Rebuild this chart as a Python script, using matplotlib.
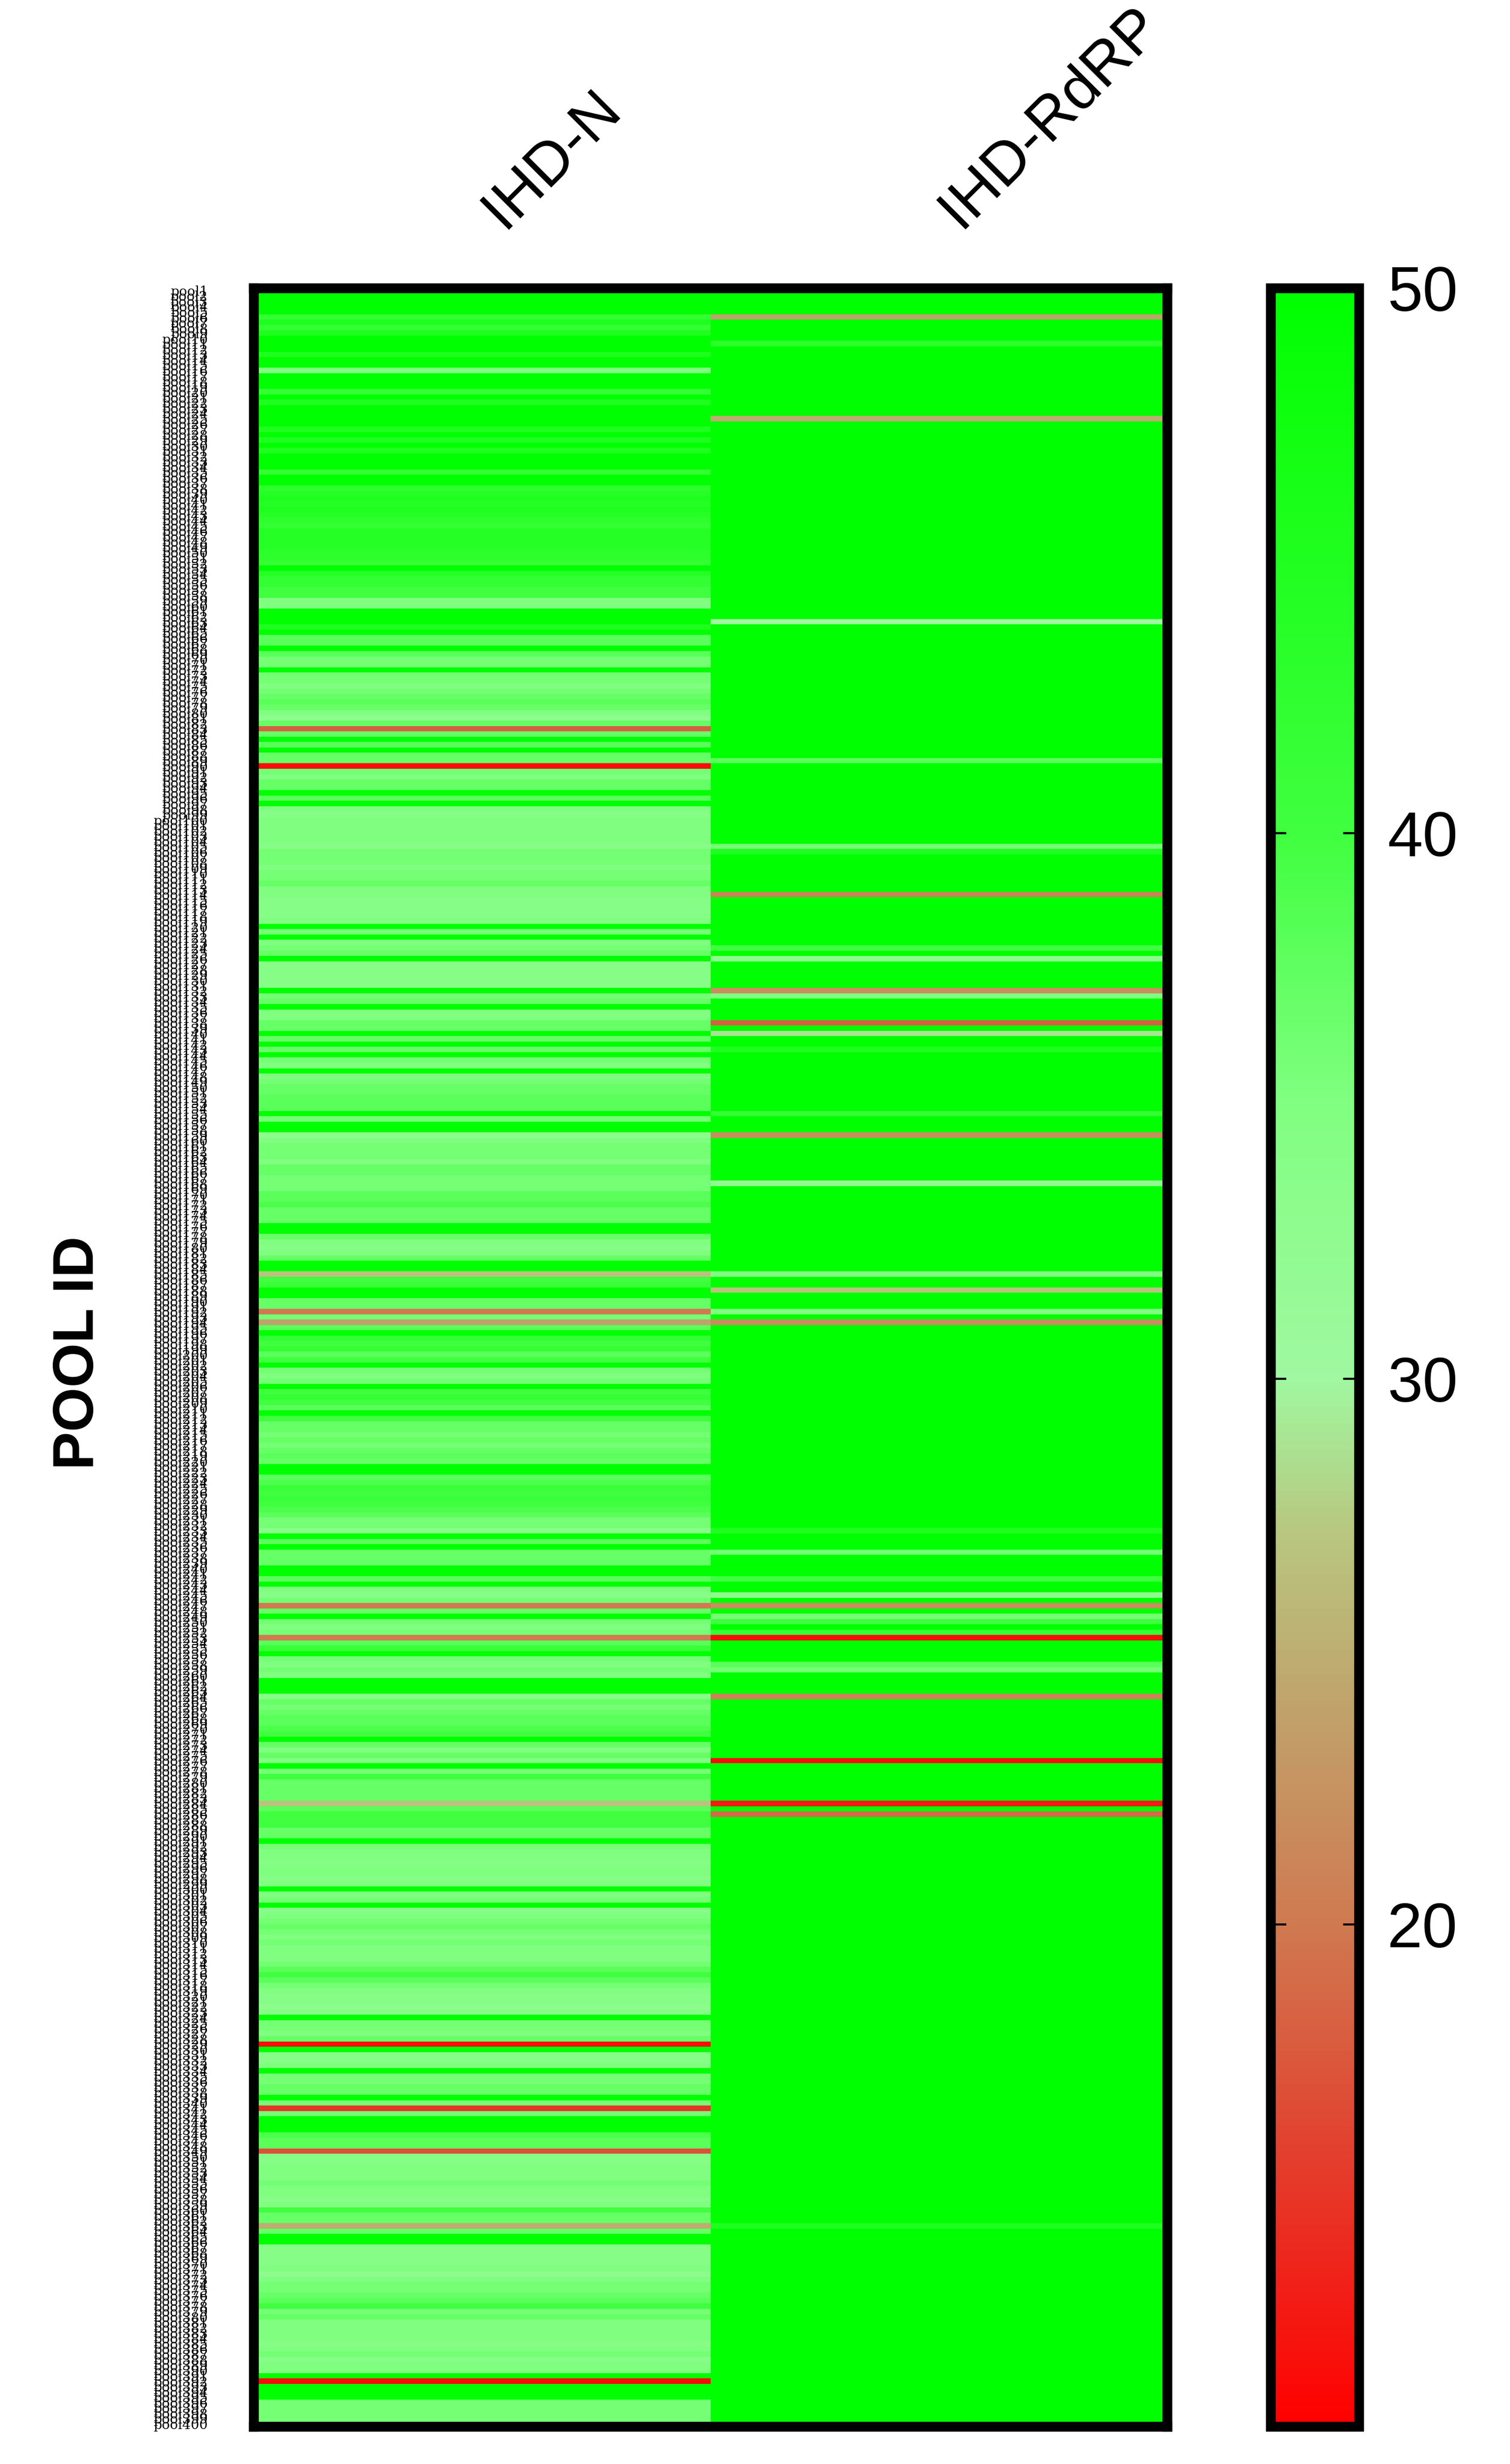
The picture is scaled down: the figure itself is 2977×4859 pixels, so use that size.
import numpy as np
import matplotlib
matplotlib.use('Agg')
import matplotlib.pyplot as plt
import matplotlib.transforms as mtransforms
from matplotlib.colors import LinearSegmentedColormap

plt.rcParams['font.family'] = ['Liberation Sans', 'DejaVu Sans']

columns = ['IHD-N', 'IHD-RdRP']

# Ct values of the IHD-N assay, one per pool (top to bottom)
ihd_n = (
    [50] * 5 + [42, 45, 42, 45] + [50] * 3 + [45] + [50, 50] + [35] + [50] * 3 + [42] + [50] + [45]
    + [50] * 4 + [45] + [50] + [45] + [50] + [45] + [50] * 3 + [42] + [50, 50]
    + [43, 44, 45, 44, 45, 44, 43, 42, 44, 44, 44, 44, 43, 43, 42] + [50]
    + [44, 42, 42, 40, 40] + [35, 35] + [50] * 3 + [45] + [50] + [38, 38] + [50]
    + [38, 36, 36] + [50] + [36, 36, 35, 36, 37, 38, 37, 35] + [33] + [37] + [18] + [37]
    + [50] + [38] + [50] + [37, 37] + [12] + [36, 35, 37, 37] + [50] + [38] + [50]
    + [35, 34, 35, 35, 35, 35, 35, 34, 36, 36]
    + [36, 35, 36, 36, 37, 35, 35, 34, 34, 34, 34, 35] + [50] + [36] + [50] + [35, 36, 37]
    + [50] + [34] * 5 + [50] + [36, 37] + [50] + [35, 35, 37, 37] + [50] + [37] + [50]
    + [37] + [50] + [36, 35] + [50] + [35, 36, 37, 37, 38, 38, 38] + [50] + [36] + [50, 50]
    + [33, 35, 36, 36, 36, 35, 37, 37, 36, 36, 36, 38, 38, 39, 37, 37, 37] + [50, 50]
    + [37, 35, 34, 35, 37] + [50, 50] + [27] + [40, 41] + [50, 50] + [37, 37] + [20]
    + [36] + [24] + [38] + [50] + [42, 40, 42, 38, 40] + [50] + [36, 35, 36] + [50]
    + [40, 42, 40, 38] + [50] + [40, 37, 37, 36, 37, 36, 37, 38, 37] + [50, 50]
    + [38, 39, 41, 40, 41, 40, 39, 38, 36, 36, 34] + [50] + [38] + [50] + [37] * 3
    + [50, 50] + [38] + [50] + [35, 34, 36] + [20] + [37] + [50] + [36, 35, 36] + [20]
    + [38, 41] + [50] + [36, 35] + [36, 35] + [50] * 3
    + [34, 37, 36, 37, 38, 38, 39, 40] + [50] + [37, 35, 37, 35] + [50]
    + [36, 40, 37, 37, 37, 37] + [27] + [38, 40, 40, 40, 37, 37] + [50]
    + [36, 35, 35, 34, 35, 35, 34, 35] + [50] + [35, 36] + [50]
    + [34, 35, 36, 37, 36, 35, 36, 35, 35, 35, 36, 38, 40, 38, 36, 35, 34, 34, 33, 34]
    + [50] + [36, 36, 35, 37] + [12] + [50] + [34, 34, 35] + [50] + [36, 36, 37, 37]
    + [50] + [36] + [15] + [36] + [50] * 3 + [39, 38, 38] + [17]
    + [34, 34, 35, 35, 35, 36, 35, 35, 34, 35] + [40, 37, 37] + [25] + [37] + [50, 50]
    + [34, 34, 34, 34, 35, 33, 35, 36, 36, 37, 38, 40, 36, 37, 35, 35, 35, 35, 34, 35, 36, 34, 35, 35]
    + [50] + [12] + [50] * 3 + [36] * 5
)

# IHD-RdRP: 50 (no amplification) except these pools
rdrp_rows = [5, 10, 24, 62, 88, 104, 105, 113, 123, 125, 131, 132, 137, 139, 142, 154,
             158, 167, 184, 187, 191, 193, 232, 236, 241, 244, 246, 248, 249, 251, 252,
             257, 258, 263, 275, 283, 285, 362]
rdrp_vals = [24, 43, 25, 30, 38, 36, 45, 21, 40, 33, 22, 35, 18, 29, 45, 42,
             22, 32, 35, 27, 35, 22, 45, 36, 40, 33, 22, 36, 40, 42, 12,
             38, 36, 21, 12, 13, 19, 45]

n_rows = len(ihd_n)
ihd_rdrp = [50.0] * n_rows
for r, v in zip(rdrp_rows, rdrp_vals):
    ihd_rdrp[r] = v

pool_ids = ['pool{}'.format(i + 1) for i in range(n_rows)]

data = np.column_stack([ihd_n, ihd_rdrp]).astype(float)

cmap = LinearSegmentedColormap.from_list('ct', [
    (0.0, '#ff0000'), (0.12, '#e43c2c'), (0.23, '#d07850'), (0.34, '#c0a46c'),
    (0.42, '#b8c880'), (0.49, '#a0f8a0'), (0.62, '#80ff80'), (0.745, '#40ff40'),
    (1.0, '#00ff00')])
vmin, vmax = 10.8, 50

fig = plt.figure(figsize=(29.77, 48.59), dpi=100)
ax = fig.add_axes([0.168, 0.0152, 0.605, 0.868])
im = ax.imshow(data, cmap=cmap, vmin=vmin, vmax=vmax, aspect='auto',
               interpolation='nearest')

ax.set_xticks([0, 1])
ax.set_xticklabels(columns, rotation=45, ha='left', va='bottom',
                   rotation_mode='anchor', fontsize=86)
ax.xaxis.tick_top()
ax.tick_params(axis='x', length=0, pad=70)
shift = mtransforms.ScaledTranslation(0.6, 0, fig.dpi_scale_trans)
for lbl in ax.get_xticklabels():
    lbl.set_transform(lbl.get_transform() + shift)
ax.set_yticks(range(n_rows))
ax.set_yticklabels(pool_ids, fontsize=19, family='DejaVu Serif')
ax.tick_params(axis='y', length=0, pad=65)
for s in ax.spines.values():
    s.set_linewidth(14)

fig.text(0.052, 0.451, 'POOL ID', rotation=90, fontsize=81, fontweight='bold',
         ha='center', va='center')

cax = fig.add_axes([0.8415, 0.0152, 0.0585, 0.868])
cb = fig.colorbar(im, cax=cax, ticks=[20, 30, 40, 50])
cb.outline.set_linewidth(14)
cax.tick_params(direction='in', length=22, width=3, labelsize=90, pad=40,
                left=True, right=True)

plt.savefig('out.png', dpi=100)
